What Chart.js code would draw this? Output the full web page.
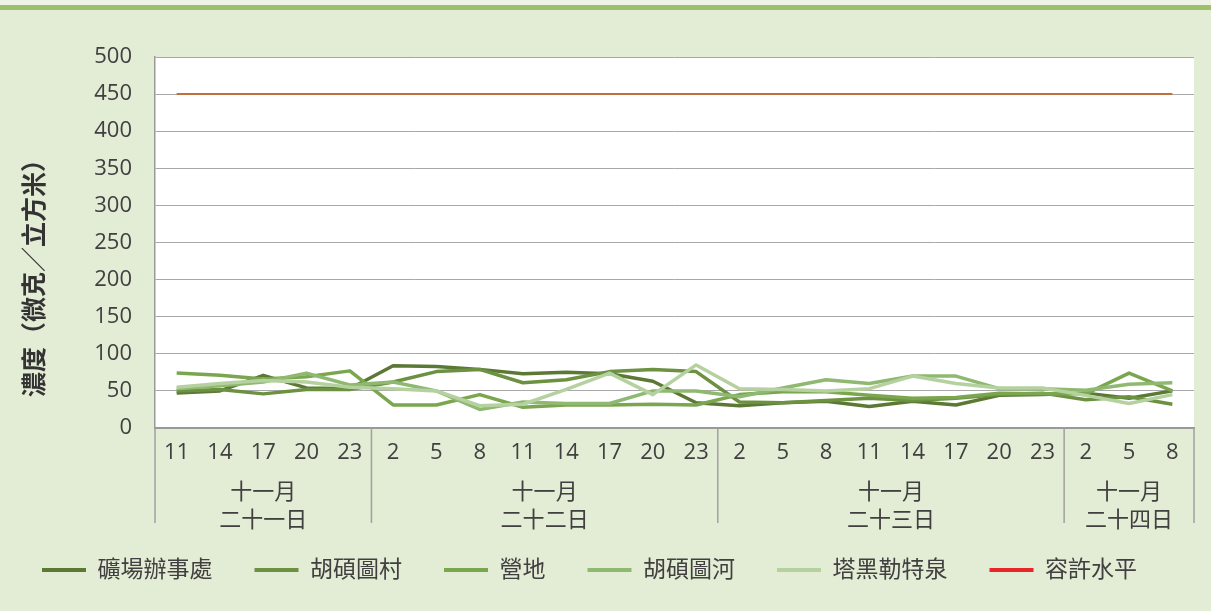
<!DOCTYPE html>
<html>
<head>
<meta charset="utf-8">
<script src="https://cdn.jsdelivr.net/npm/chart.js@4.4.0/dist/chart.umd.min.js"></script>
<style>
html, body { margin: 0; padding: 0; background: #e3ecd5; }
#wrap { position: relative; width: 1211px; height: 611px; overflow: hidden; background: #e3ecd5; }
#band { position: absolute; left: 0; top: 0; width: 1211px; height: 5px; background: #eef3e5; }
#stripe { position: absolute; left: 0; top: 5px; width: 1211px; height: 5px; background: #9dc06b; }
canvas { position: absolute; left: 0; top: 0; }
</style>
</head>
<body>
<div id="wrap">
  <div id="band"></div>
  <div id="stripe"></div>
  <canvas id="airChart" width="1211" height="611"></canvas>
</div>
<script>
// hour of reading, grouped by day
const hours = ['11', '14', '17', '20', '23',
               '2', '5', '8', '11', '14', '17', '20', '23',
               '2', '5', '8', '11', '14', '17', '20', '23',
               '2', '5', '8'];
const groupMonths = ['十一月', '十一月', '十一月', '十一月'];
const groupDays = ['二十一日', '二十二日', '二十三日', '二十四日'];
const groupSizes = [5, 8, 8, 3];

// concentrations (micrograms per cubic metre)
const mineOffice = [47, 50, 71, 54, 53, 84, 83, 79, 73, 75, 73, 63, 34, 30, 34, 36, 29, 36, 31, 44, 45, 47, 40, 50];
const village    = [50, 52, 46, 52, 52, 62, 76, 79, 61, 65, 76, 79, 76, 35, 34, 37, 40, 37, 40, 45, 47, 38, 42, 32];
const camp       = [74, 71, 66, 69, 77, 31, 31, 45, 28, 31, 31, 32, 31, 45, 49, 49, 44, 40, 41, 47, 46, 46, 74, 50];
const river      = [53, 57, 62, 74, 58, 62, 50, 25, 35, 33, 33, 50, 50, 42, 54, 65, 60, 70, 70, 53, 53, 51, 59, 61];
const spring     = [55, 60, 64, 62, 55, 53, 50, 30, 32, 52, 74, 45, 85, 53, 52, 50, 53, 70, 60, 54, 54, 44, 33, 45];
const limitLevel = [450, 450, 450, 450, 450, 450, 450, 450, 450, 450, 450, 450,
                    450, 450, 450, 450, 450, 450, 450, 450, 450, 450, 450, 450];

const fontFamily = "'Open Sans', 'Noto Sans CJK TC', sans-serif";
const textColor = '#404040';

function series(label, data, color, order) {
    return {
        label: label,
        data: data,
        borderColor: color,
        backgroundColor: color,
        borderWidth: 3.5,
        borderJoinStyle: 'round',
        pointRadius: 0,
        tension: 0,
        fill: false,
        order: order
    };
}

// white plot area
const plotBackground = {
    id: 'plotBackground',
    beforeDraw(chart) {
        const {ctx, chartArea} = chart;
        ctx.save();
        ctx.fillStyle = '#ffffff';
        ctx.fillRect(chartArea.left, chartArea.top, chartArea.right - chartArea.left, chartArea.bottom - chartArea.top);
        ctx.restore();
    }
};

// day groups under the hour labels, and the y title
const dayGroups = {
    id: 'dayGroups',
    afterDraw(chart) {
        const {ctx, chartArea} = chart;
        const x = chart.scales.x;
        const bottom = chartArea.bottom;
        ctx.save();
        ctx.strokeStyle = '#a0a0a0';
        ctx.lineWidth = 1.5;
        let start = 0;
        const edges = [x.getPixelForValue(-0.5)];
        groupSizes.forEach(n => {
            start += n;
            edges.push(x.getPixelForValue(start - 0.5));
        });
        edges.forEach(px => {
            ctx.beginPath();
            ctx.moveTo(px, bottom);
            ctx.lineTo(px, bottom + 95);
            ctx.stroke();
        });
        ctx.fillStyle = textColor;
        ctx.font = '22px ' + fontFamily;
        ctx.textAlign = 'center';
        ctx.textBaseline = 'middle';
        for (let i = 0; i < groupSizes.length; i++) {
            const mid = (edges[i] + edges[i + 1]) / 2;
            ctx.fillText(groupMonths[i], mid, bottom + 65);
            ctx.fillText(groupDays[i], mid, bottom + 93);
        }

        ctx.translate(36, 272);
        ctx.rotate(-Math.PI / 2);
        ctx.font = 'bold 25px ' + fontFamily;
        ctx.fillStyle = '#333333';
        ctx.fillText('濃度（微克／立方米）', 0, 0);
        ctx.restore();
    }
};

const limitSeries = series('容許水平', limitLevel, '#c0703e', 0);
limitSeries.backgroundColor = '#e8262a';
limitSeries.borderWidth = 2;

new Chart(document.getElementById('airChart').getContext('2d'), {
    type: 'line',
    data: {
        labels: hours,
        datasets: [
            series('礦場辦事處', mineOffice, '#5b7834', 5),
            series('胡碩圖村', village, '#6b9141', 4),
            series('營地', camp, '#7aa64f', 3),
            series('胡碩圖河', river, '#8fb970', 2),
            series('塔黑勒特泉', spring, '#b4d19f', 1),
            limitSeries
        ]
    },
    plugins: [plotBackground, dayGroups],
    options: {
        responsive: false,
        animation: false,
        layout: {
            padding: { top: 57, right: 17, bottom: 19.5, left: 0 }
        },
        plugins: {
            tooltip: { enabled: false },
            legend: {
                position: 'bottom',
                align: 'start',
                labels: {
                    boxWidth: 44,
                    boxHeight: 4,
                    padding: 42,
                    color: textColor,
                    font: { family: fontFamily, size: 23 },
                    sort: (a, b) => a.datasetIndex - b.datasetIndex,
                    generateLabels(chart) {
                        return Chart.defaults.plugins.legend.labels.generateLabels(chart)
                            .map(item => Object.assign(item, { lineWidth: 0 }));
                    }
                }
            }
        },
        scales: {
            x: {
                offset: true,
                grid: { drawOnChartArea: false, drawTicks: false, offset: true },
                border: { color: '#999999', width: 2 },
                ticks: {
                    padding: 12,
                    autoSkip: false,
                    maxRotation: 0,
                    color: textColor,
                    font: { family: fontFamily, size: 22 }
                },
                afterFit(scale) { scale.height = 88.5; }
            },
            y: {
                min: 0,
                max: 500,
                grid: { color: '#a8a8a8', lineWidth: 1, drawTicks: false },
                border: { color: '#999999', width: 1.5 },
                ticks: {
                    stepSize: 50,
                    padding: 23,
                    color: textColor,
                    font: { family: fontFamily, size: 22 }
                },
                afterFit(scale) { scale.width = 155; }
            }
        }
    }
});
</script>
</body>
</html>
